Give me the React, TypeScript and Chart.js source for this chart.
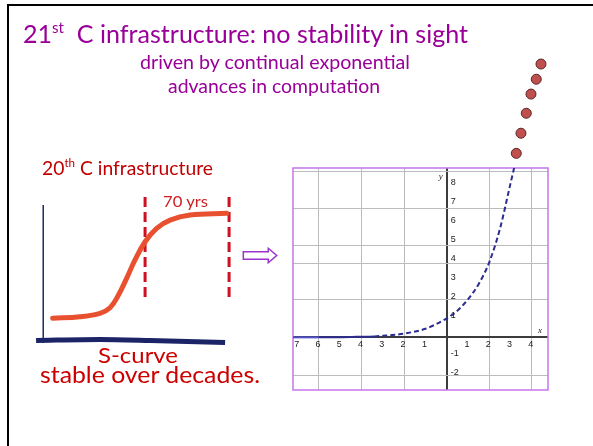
import React, { useEffect, useLayoutEffect, useRef } from "react";
import { Chart, registerables } from "chart.js";

Chart.register(...registerables);

// ---- right graph (exponential) ----
const xGridValues = [-6, -4, -2, 0, 2, 4];
const yGridValues = [-2, 0, 2, 3.9, 4.85, 6.8, 8.75];
const xTickValues = [-7, -6, -5, -4, -3, -2, -1, 1, 2, 3, 4];
const xTickLabels = ["7", "6", "5", "4", "3", "2", "1", "1", "2", "3", "4"];
const yTickValues = [-2, -1, 1, 2, 3, 4, 5, 6, 7, 8];
const yTickLabels = ["-2", "-1", "1", "2", "3", "4", "5", "6", "7", "8"];

const expoX = [-7.25, -6, -5, -4.2, -3.4, -3, -2, -1, 0, 0.5, 1, 1.5, 2, 2.5, 3, 3.25];
const expoY = [0, 0, 0.01, 0.03, 0.05, 0.08, 0.2, 0.45, 1.0, 1.4, 2.0, 2.8, 3.95, 5.7, 8.1, 9.3];

const dotsX = [3.27, 3.49, 3.74, 3.96, 4.21, 4.43];
const dotsY = [9.68, 10.74, 11.79, 12.8, 13.58, 14.38];

// ---- left graph (S-curve) ----
const sX = [10.8, 23.8, 33.3, 38.1, 42.0, 46.0, 50.0, 54.8, 60.3, 66.7, 76.2, 93.7];
const sY = [21.0, 21.9, 23.8, 27.0, 34.0, 43.8, 54.3, 64.7, 72.4, 77.1, 80.0, 81.0];
const markerX = [54.8, 94.8];
const markerY = [33.1, 90.3];
const vAxisX = [6.3, 6.3];
const vAxisY = [6.9, 85.7];
const hAxisX = [2.9, 33.3, 57.1, 92.9];
const hAxisY = [8.3, 8.9, 8.3, 7.1];

const FONT = "Lato, 'Noto Sans', sans-serif";

function FitText(props: { left: number; top: number; width: number; size: number; color: string; children: any }) {
  const ref = useRef<HTMLDivElement>(null);
  useLayoutEffect(() => {
    const el = ref.current;
    if (!el) return;
    el.style.transform = "none";
    const w = el.getBoundingClientRect().width;
    if (w > 0) el.style.transform = `scaleX(${props.width / w})`;
  });
  return (
    <div
      ref={ref}
      style={{
        position: "absolute",
        left: props.left,
        top: props.top,
        fontSize: props.size,
        lineHeight: 1,
        whiteSpace: "pre",
        color: props.color,
        fontFamily: FONT,
        transformOrigin: "0 0",
      }}
    >
      {props.children}
    </div>
  );
}

const Sup = ({ t }: { t: string }) => (
  <span style={{ fontSize: "0.6em", position: "relative", top: "-0.7em" }}>{t}</span>
);

export default function App() {
  const mainRef = useRef<HTMLCanvasElement>(null);
  const sRef = useRef<HTMLCanvasElement>(null);

  useEffect(() => {
    const boxPlugin = {
      id: "box",
      beforeDatasetsDraw(chart: any) {
        const { ctx, chartArea } = chart;
        ctx.save();
        ctx.strokeStyle = "#c874ec";
        ctx.lineWidth = 1.5;
        ctx.strokeRect(chartArea.left, chartArea.top, chartArea.right - chartArea.left, chartArea.bottom - chartArea.top);
        ctx.restore();
      },
      afterDatasetsDraw(chart: any) {
        const { ctx } = chart;
        const xs = chart.scales.x;
        const ys = chart.scales.y;
        const x0 = xs.getPixelForValue(0);
        const y0 = ys.getPixelForValue(0);
        ctx.save();
        ctx.fillStyle = "#222";
        ctx.font = "9px 'Liberation Sans', sans-serif";
        ctx.textAlign = "center";
        ctx.textBaseline = "top";
        xTickValues.forEach((v, i) => {
          ctx.fillText(xTickLabels[i], xs.getPixelForValue(v) - 1, y0 + 3);
        });
        ctx.textAlign = "left";
        ctx.textBaseline = "middle";
        yTickValues.forEach((v, i) => {
          ctx.fillText(yTickLabels[i], x0 + 4, ys.getPixelForValue(v) - 3);
        });
        ctx.font = "italic 9px 'Liberation Serif', serif";
        ctx.textAlign = "center";
        ctx.fillText("y", x0 - 6, ys.top + 9);
        ctx.fillText("x", xs.right - 8, y0 - 7);

        // continuation dots, positioned through the chart's scales (outside the plot area)
        dotsX.forEach((x, i) => {
          ctx.beginPath();
          ctx.arc(xs.getPixelForValue(x), ys.getPixelForValue(dotsY[i]), 5, 0, Math.PI * 2);
          ctx.fillStyle = "#c0504d";
          ctx.fill();
          ctx.lineWidth = 1;
          ctx.strokeStyle = "#5a2626";
          ctx.stroke();
        });
        ctx.restore();
      },
    };

    const main = new Chart(mainRef.current as HTMLCanvasElement, {
      type: "scatter",
      data: {
        datasets: [
          {
            data: expoX.map((x, i) => ({ x, y: expoY[i] })),
            showLine: true,
            borderColor: "#2c2c90",
            borderWidth: 2,
            pointRadius: 0,
            cubicInterpolationMode: "monotone",
            segment: {
              borderDash: (c: any) => (c.p1.parsed.x <= -3.4 ? [] : [5, 3]),
              borderColor: (c: any) => (c.p1.parsed.x <= -6 ? "#5050c8" : "#2c2c90"),
            },
          } as any,
        ],
      },
      options: {
        responsive: false,
        animation: false,
        devicePixelRatio: 1,
        layout: { padding: { left: 293, top: 168, right: 45, bottom: 56 } },
        plugins: { legend: { display: false }, tooltip: { enabled: false } },
        scales: {
          x: {
            type: "linear",
            min: -7.22,
            max: 4.76,
            afterBuildTicks: (ax: any) => {
              ax.ticks = xGridValues.map((v) => ({ value: v }));
            },
            ticks: { display: false },
            grid: {
              drawTicks: false,
              color: (c: any) => (c.tick && c.tick.value === 0 ? "#3c3c3c" : "#bcbcbc"),
              lineWidth: (c: any) => (c.tick && c.tick.value === 0 ? 2 : 1),
            },
            border: { display: false },
          },
          y: {
            type: "linear",
            min: -2.77,
            max: 8.91,
            afterBuildTicks: (ax: any) => {
              ax.ticks = yGridValues.map((v) => ({ value: v }));
            },
            ticks: { display: false },
            grid: {
              drawTicks: false,
              color: (c: any) => (c.tick && c.tick.value === 0 ? "#3c3c3c" : "#bcbcbc"),
              lineWidth: (c: any) => (c.tick && c.tick.value === 0 ? 2 : 1),
            },
            border: { display: false },
          },
        },
      } as any,
      plugins: [boxPlugin],
    });

    const sChart = new Chart(sRef.current as HTMLCanvasElement, {
      type: "scatter",
      data: {
        datasets: [
          {
            data: hAxisX.map((x, i) => ({ x, y: hAxisY[i] })),
            showLine: true,
            borderColor: "#1b2466",
            borderWidth: 5,
            pointRadius: 0,
            tension: 0.3,
          },
          {
            data: vAxisX.map((x, i) => ({ x, y: vAxisY[i] })),
            showLine: true,
            borderColor: "#1e2a66",
            borderWidth: 1.5,
            pointRadius: 0,
          },
          {
            data: sX.map((x, i) => ({ x, y: sY[i] })),
            showLine: true,
            borderColor: "#e8502f",
            borderWidth: 5,
            pointRadius: 0,
            tension: 0.4,
            borderCapStyle: "round",
          } as any,
          {
            data: markerY.map((y) => ({ x: markerX[0], y })),
            showLine: true,
            borderColor: "#cc1122",
            borderWidth: 3,
            borderDash: [10, 5],
            pointRadius: 0,
          },
          {
            data: markerY.map((y) => ({ x: markerX[1], y })),
            showLine: true,
            borderColor: "#cc1122",
            borderWidth: 3,
            borderDash: [10, 5],
            pointRadius: 0,
          },
        ],
      },
      options: {
        responsive: false,
        animation: false,
        devicePixelRatio: 1,
        layout: { padding: 0 },
        plugins: { legend: { display: false }, tooltip: { enabled: false } },
        scales: {
          x: { type: "linear", min: 0, max: 100, display: false },
          y: { type: "linear", min: 0, max: 100, display: false },
        },
      } as any,
    });

    return () => {
      main.destroy();
      sChart.destroy();
    };
  }, []);

  return (
    <div style={{ position: "fixed", left: 0, top: 0, width: 593, height: 446, background: "#fff", overflow: "hidden" }}>
      <div
        style={{
          position: "absolute",
          left: 7,
          top: 4,
          width: 620,
          height: 480,
          borderTop: "2px solid #000",
          borderLeft: "2px solid #000",
        }}
      />
      <canvas ref={mainRef} width={593} height={446} style={{ position: "absolute", left: 0, top: 0 }} />
      <canvas ref={sRef} width={210} height={175} style={{ position: "absolute", left: 30, top: 180 }} />

      <FitText left={23} top={21} width={445} size={25} color="#990099">
        21<Sup t="st" />{"  C infrastructure: no stability in sight"}
      </FitText>
      <FitText left={140} top={52} width={270} size={19.5} color="#990099">
        driven by continual exponential
      </FitText>
      <FitText left={168} top={75.5} width={212} size={19.5} color="#990099">
        advances in computation
      </FitText>

      <FitText left={42} top={158.5} width={171} size={18.5} color="#c00000">
        20<Sup t="th" />{" C infrastructure"}
      </FitText>
      <FitText left={163} top={194} width={45} size={15} color="#cc1f1f">
        70 yrs
      </FitText>
      <FitText left={98} top={344.4} width={80} size={21} color="#cc0000">
        S-curve
      </FitText>
      <FitText left={40} top={361.7} width={220} size={24} color="#cc0000">
        stable over decades.
      </FitText>

      <svg style={{ position: "absolute", left: 240, top: 245 }} width={40} height={20}>
        <path
          d="M3.3 6.7 H28.3 V3.3 L36.7 10.5 L28.3 17.7 V14.3 H3.3 Z"
          fill="none"
          stroke="#9933cc"
          strokeWidth={1.5}
        />
      </svg>
    </div>
  );
}
